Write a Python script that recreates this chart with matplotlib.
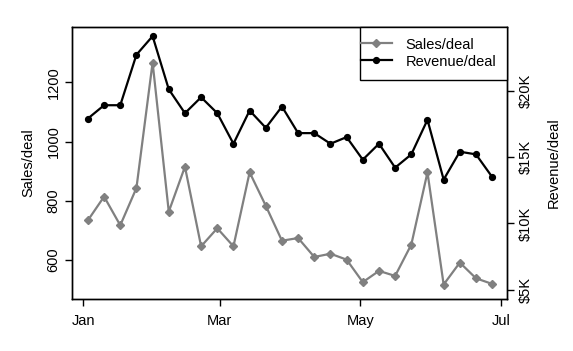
import matplotlib
matplotlib.use("Agg")
import matplotlib.pyplot as plt
from matplotlib.legend_handler import HandlerLine2D
import pandas as pd
import datetime as dt

plt.rcParams['font.family'] = ['Liberation Sans', 'DejaVu Sans']

# weekly points, first week of Jan to end of June
weeks = pd.date_range('2015-01-03', periods=26, freq='7D')

sales_per_deal = [734, 814, 717, 843, 1267, 763, 915, 646, 707, 646,
                  896, 783, 665, 674, 610, 621, 601, 525, 563, 546,
                  652, 896, 517, 591, 538, 519]

revenue_per_deal_k = [17.9, 18.9, 18.9, 22.7, 24.1, 20.1, 18.3, 19.5, 18.3, 16.0,
                      18.5, 17.2, 18.8, 16.8, 16.8, 16.0, 16.5, 14.8, 16.0, 14.2,
                      15.2, 17.8, 13.3, 15.4, 15.2, 13.5]

month_ticks = [dt.datetime(2015, 1, 1), dt.datetime(2015, 3, 1),
               dt.datetime(2015, 5, 1), dt.datetime(2015, 7, 1)]
month_labels = ['Jan', 'Mar', 'May', 'Jul']
sales_ticks = [600, 800, 1000, 1200]
revenue_ticks = [5, 10, 15, 20]
revenue_labels = ['$5K', '$10K', '$15K', '$20K']

fig = plt.figure(figsize=(5.73, 3.51), dpi=100)
ax = fig.add_axes([0.1262, 0.1481, 0.7581, 0.775])
ax2 = ax.twinx()

l1, = ax.plot(weeks, sales_per_deal, color='#808080', lw=1.6,
              marker='D', markersize=3.6, label='Sales/deal')
l2, = ax2.plot(weeks, revenue_per_deal_k, color='black', lw=1.6,
               marker='o', markersize=4.2, label='Revenue/deal')

ax.set_xlim(dt.datetime(2015, 1, 1) - dt.timedelta(days=4.76),
            dt.datetime(2015, 1, 1) + dt.timedelta(days=183.3))
ax.set_ylim(468, 1387)
ax2.set_ylim(4.31, 24.79)

ax.set_xticks(month_ticks)
ax.set_xticklabels(month_labels)
ax.set_yticks(sales_ticks)
ax.set_yticklabels([str(v) for v in sales_ticks], rotation=90, va='center')
ax2.set_yticks(revenue_ticks)
ax2.set_yticklabels(revenue_labels, rotation=90, va='center')

for a in (ax, ax2):
    a.tick_params(direction='out', length=5, width=1, labelsize=10.5, pad=3.5)
    for s in a.spines.values():
        s.set_linewidth(1)
ax.tick_params(axis='x', pad=6)

ax.set_ylabel('Sales/deal', fontsize=10.5, labelpad=8)
ax2.set_ylabel('Revenue/deal', fontsize=10.5, rotation=90, labelpad=10)

# legend handle line reaches into the left padding like in R
hmap = {l1: HandlerLine2D(xpad=-0.65), l2: HandlerLine2D(xpad=-0.65)}
leg = ax2.legend(handles=[l1, l2], loc='upper right', borderaxespad=0,
                 fancybox=False, edgecolor='black', framealpha=1,
                 fontsize=10.5, handlelength=1.5, handleheight=1.1,
                 handletextpad=0.95, borderpad=0.7, labelspacing=0.15,
                 handler_map=hmap)
leg.get_frame().set_linewidth(1)

fig.savefig('out.png', dpi=100)
